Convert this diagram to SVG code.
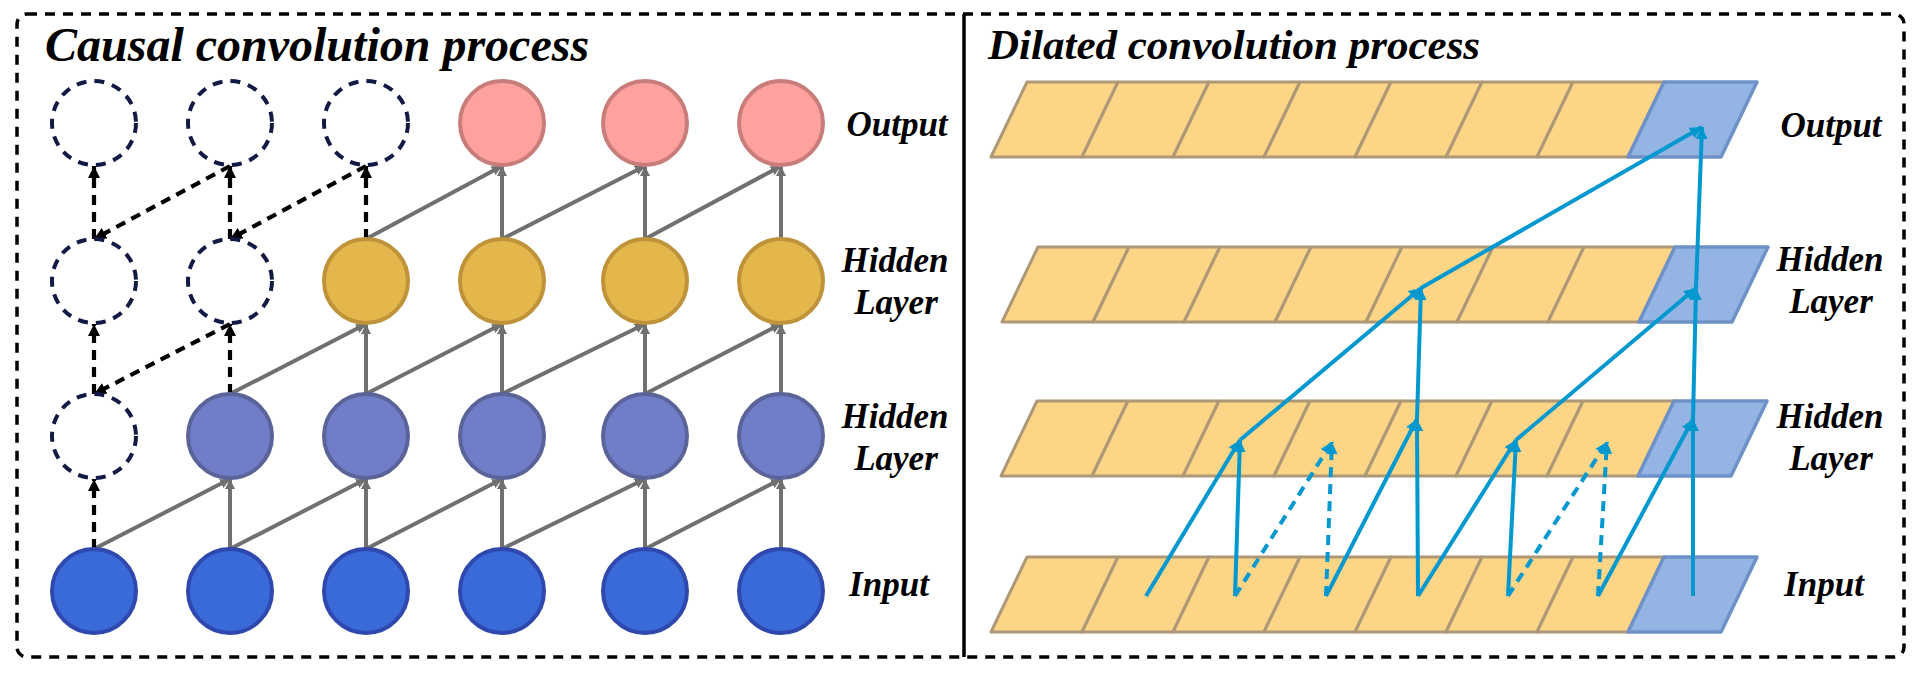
<svg xmlns="http://www.w3.org/2000/svg" width="1919" height="676" viewBox="0 0 1919 676">
<style>
.title{font-family:"Liberation Serif","Times New Roman",serif;font-weight:bold;font-style:italic;fill:#000}
.lbl{font-family:"Liberation Serif","Times New Roman",serif;font-weight:bold;font-style:italic;font-size:35px;fill:#000;text-anchor:middle}
.ghost{fill:none;stroke:#111a44;stroke-width:4;stroke-dasharray:10 8}
.out{fill:#ffa19f;stroke:#c97d7b;stroke-width:4}
.hid2{fill:#e3b74b;stroke:#be933a;stroke-width:4}
.hid1{fill:#727dc9;stroke:#5b6499;stroke-width:4}
.inp{fill:#3a69d8;stroke:#2f48ad;stroke-width:4}
.gray{stroke:#707070;stroke-width:4;fill:none;marker-end:url(#ag)}
.bdash{stroke:#000;stroke-width:4.2;fill:none;stroke-dasharray:10 7;marker-end:url(#ab)}
.blue{stroke:#0098cf;stroke-width:4;fill:none;marker-end:url(#abl)}
.bluedash{stroke:#0098cf;stroke-width:4;fill:none;stroke-dasharray:10 7;marker-end:url(#abl)}
.cell{fill:#fdd587;stroke:#ad9877;stroke-width:3;stroke-linejoin:round}
.bcell{fill:#94b5e4;stroke:#6e92c8;stroke-width:3.5;stroke-linejoin:round}
</style>
<defs>
<marker id="ag" viewBox="0 0 10 10" refX="10" refY="5" markerWidth="10" markerHeight="10" markerUnits="userSpaceOnUse" orient="auto"><path d="M0,0 L10,5 L0,10 z" fill="#707070"/></marker>
<marker id="ab" viewBox="0 0 12 12" refX="12" refY="6" markerWidth="12" markerHeight="12" markerUnits="userSpaceOnUse" orient="auto"><path d="M0,0 L12,6 L0,12 z" fill="#000"/></marker>
<marker id="abl" viewBox="0 0 12 12" refX="12" refY="6" markerWidth="12" markerHeight="12" markerUnits="userSpaceOnUse" orient="auto"><path d="M0,0 L12,6 L0,12 z" fill="#0098cf"/></marker>
<g id="band">
<polygon class="cell" points="0,0 91,0 55,75 -36,75"/>
<polygon class="cell" points="91,0 182,0 146,75 55,75"/>
<polygon class="cell" points="182,0 273,0 237,75 146,75"/>
<polygon class="cell" points="273,0 364,0 328,75 237,75"/>
<polygon class="cell" points="364,0 455,0 419,75 328,75"/>
<polygon class="cell" points="455,0 546,0 510,75 419,75"/>
<polygon class="cell" points="546,0 637,0 601,75 510,75"/>
<polygon class="bcell" points="637,0 730,0 694,75 601,75"/>
</g>
</defs>
<rect width="1919" height="676" fill="#fff"/>
<rect x="17" y="14" width="1887" height="643" rx="10" fill="none" stroke="#000" stroke-width="3.5" stroke-dasharray="10 8"/>
<line x1="964" y1="14" x2="964" y2="657" stroke="#000" stroke-width="3.5"/>

<text class="title" x="45" y="61" font-size="48">Causal convolution process</text>
<text class="title" x="988" y="59" font-size="43">Dilated convolution process</text>

<!-- Left panel connectors -->
<g id="causal-connectors">
<line class="gray" x1="230" y1="549" x2="230" y2="479"/>
<line class="gray" x1="366" y1="549" x2="366" y2="479"/>
<line class="gray" x1="502" y1="549" x2="502" y2="479"/>
<line class="gray" x1="645" y1="549" x2="645" y2="479"/>
<line class="gray" x1="781" y1="549" x2="781" y2="479"/>
<line class="gray" x1="366" y1="394" x2="366" y2="324"/>
<line class="gray" x1="502" y1="394" x2="502" y2="324"/>
<line class="gray" x1="645" y1="394" x2="645" y2="324"/>
<line class="gray" x1="781" y1="394" x2="781" y2="324"/>
<line class="gray" x1="502" y1="239" x2="502" y2="166"/>
<line class="gray" x1="645" y1="239" x2="645" y2="166"/>
<line class="gray" x1="781" y1="239" x2="781" y2="166"/>
<line class="gray" x1="94" y1="549" x2="230" y2="479"/>
<line class="gray" x1="230" y1="549" x2="366" y2="479"/>
<line class="gray" x1="366" y1="549" x2="502" y2="479"/>
<line class="gray" x1="502" y1="549" x2="645" y2="479"/>
<line class="gray" x1="645" y1="549" x2="781" y2="479"/>
<line class="gray" x1="230" y1="394" x2="366" y2="324"/>
<line class="gray" x1="366" y1="394" x2="502" y2="324"/>
<line class="gray" x1="502" y1="394" x2="645" y2="324"/>
<line class="gray" x1="645" y1="394" x2="781" y2="324"/>
<line class="gray" x1="366" y1="239" x2="502" y2="166"/>
<line class="gray" x1="502" y1="239" x2="645" y2="166"/>
<line class="gray" x1="645" y1="239" x2="781" y2="166"/>
<line class="bdash" x1="94" y1="549" x2="94" y2="479"/>
<line class="bdash" x1="94" y1="394" x2="94" y2="324"/>
<line class="bdash" x1="230" y1="394" x2="230" y2="324"/>
<line class="bdash" x1="94" y1="239" x2="94" y2="166"/>
<line class="bdash" x1="230" y1="239" x2="230" y2="166"/>
<line class="bdash" x1="366" y1="239" x2="366" y2="166"/>
<line class="bdash" x1="230" y1="166" x2="94" y2="239"/>
<line class="bdash" x1="366" y1="166" x2="230" y2="239"/>
<line class="bdash" x1="230" y1="324" x2="94" y2="394"/>
</g>

<!-- Left panel nodes -->
<g id="causal-output">
<circle class="ghost" cx="94" cy="123" r="42"/>
<circle class="ghost" cx="230" cy="123" r="42"/>
<circle class="ghost" cx="366" cy="123" r="42"/>
<circle class="out" cx="502" cy="123" r="42"/>
<circle class="out" cx="645" cy="123" r="42"/>
<circle class="out" cx="781" cy="123" r="42"/>
</g>
<g id="causal-hidden2">
<circle class="ghost" cx="94" cy="281" r="42"/>
<circle class="ghost" cx="230" cy="281" r="42"/>
<circle class="hid2" cx="366" cy="281" r="42"/>
<circle class="hid2" cx="502" cy="281" r="42"/>
<circle class="hid2" cx="645" cy="281" r="42"/>
<circle class="hid2" cx="781" cy="281" r="42"/>
</g>
<g id="causal-hidden1">
<circle class="ghost" cx="94" cy="436" r="42"/>
<circle class="hid1" cx="230" cy="436" r="42"/>
<circle class="hid1" cx="366" cy="436" r="42"/>
<circle class="hid1" cx="502" cy="436" r="42"/>
<circle class="hid1" cx="645" cy="436" r="42"/>
<circle class="hid1" cx="781" cy="436" r="42"/>
</g>
<g id="causal-input">
<circle class="inp" cx="94" cy="591" r="42"/>
<circle class="inp" cx="230" cy="591" r="42"/>
<circle class="inp" cx="366" cy="591" r="42"/>
<circle class="inp" cx="502" cy="591" r="42"/>
<circle class="inp" cx="645" cy="591" r="42"/>
<circle class="inp" cx="781" cy="591" r="42"/>
</g>

<g id="left-labels">
<text class="lbl" x="897" y="136">Output</text>
<text class="lbl" x="895" y="272">Hidden</text>
<text class="lbl" x="896" y="314">Layer</text>
<text class="lbl" x="895" y="428">Hidden</text>
<text class="lbl" x="896" y="470">Layer</text>
<text class="lbl" x="889" y="596">Input</text>
</g>

<!-- Right panel layers -->
<g id="dilated-output"><use href="#band" x="1027" y="82"/></g>
<g id="dilated-hidden2"><use href="#band" x="1038" y="247"/></g>
<g id="dilated-hidden1"><use href="#band" x="1037" y="401"/></g>
<g id="dilated-input"><use href="#band" x="1027" y="557"/></g>

<g id="dilated-connectors">
<line class="blue" x1="1146" y1="596" x2="1240" y2="440"/>
<line class="blue" x1="1235" y1="596" x2="1240" y2="440"/>
<line class="blue" x1="1326" y1="596" x2="1417" y2="419"/>
<line class="blue" x1="1418" y1="596" x2="1417" y2="419"/>
<line class="blue" x1="1418" y1="596" x2="1516" y2="440"/>
<line class="blue" x1="1508" y1="596" x2="1516" y2="440"/>
<line class="blue" x1="1598" y1="596" x2="1693" y2="419"/>
<line class="blue" x1="1693" y1="596" x2="1693" y2="419"/>
<line class="bluedash" x1="1235" y1="596" x2="1332" y2="442"/>
<line class="bluedash" x1="1326" y1="596" x2="1332" y2="442"/>
<line class="bluedash" x1="1508" y1="596" x2="1607" y2="442"/>
<line class="bluedash" x1="1598" y1="596" x2="1607" y2="442"/>
<line class="blue" x1="1240" y1="440" x2="1421" y2="288"/>
<line class="blue" x1="1417" y1="419" x2="1421" y2="288"/>
<line class="blue" x1="1516" y1="440" x2="1696" y2="288"/>
<line class="blue" x1="1693" y1="419" x2="1696" y2="288"/>
<line class="blue" x1="1421" y1="288" x2="1702" y2="127"/>
<line class="blue" x1="1696" y1="288" x2="1702" y2="127"/>
</g>

<g id="right-labels">
<text class="lbl" x="1831" y="137">Output</text>
<text class="lbl" x="1830" y="271">Hidden</text>
<text class="lbl" x="1831" y="313">Layer</text>
<text class="lbl" x="1830" y="428">Hidden</text>
<text class="lbl" x="1831" y="470">Layer</text>
<text class="lbl" x="1824" y="596">Input</text>
</g>
</svg>
